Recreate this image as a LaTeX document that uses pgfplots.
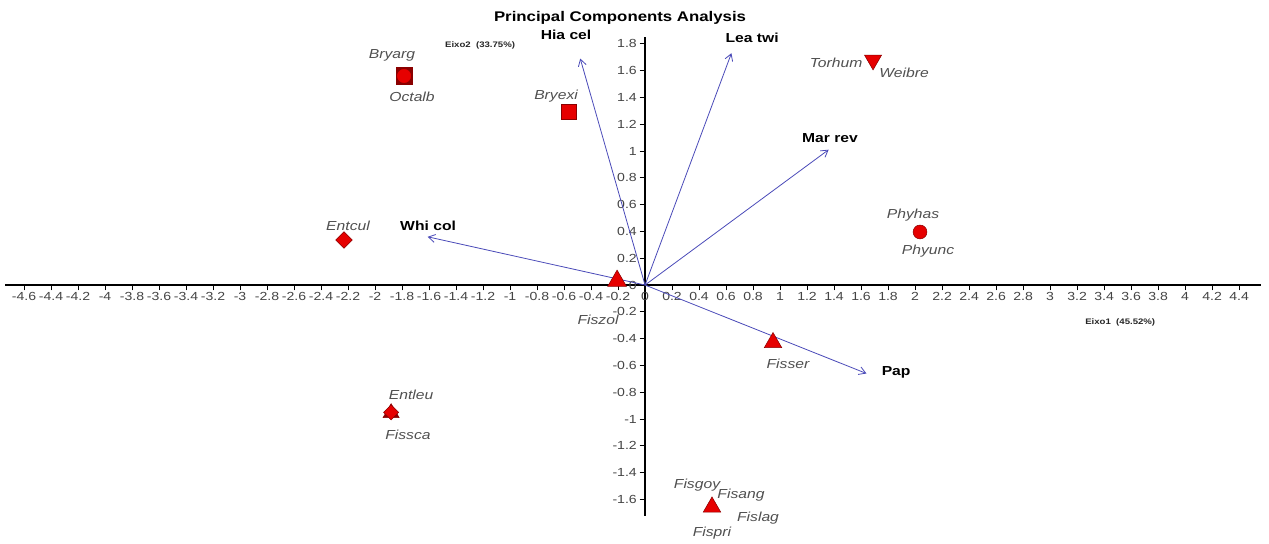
\documentclass[border=0pt]{standalone}
\usepackage{fontspec}
\setmainfont{Liberation Sans}[FakeStretch=1.2]
\usepackage{pgfplots}
\pgfplotsset{compat=1.18}
\usetikzlibrary{arrows.meta}

\definecolor{mkred}{HTML}{E60000}
\definecolor{mkedge}{HTML}{8B0000}
\definecolor{mkdark}{HTML}{8A0000}
\definecolor{vecblue}{HTML}{4A4AB8}
\definecolor{spgray}{HTML}{505050}
\definecolor{tickgray}{HTML}{444444}

\begin{document}
\begin{tikzpicture}
\begin{axis}[
  scale only axis,
  width=941.6pt, height=358.8pt,
  xmin=-4.74, xmax=4.56, ymin=-1.72, ymax=1.85,
  axis lines=middle,
  axis line style={black, line width=1.4pt, -},
  clip=false,
  xtick={-4.6,-4.4,-4.2,-4,-3.8,-3.6,-3.4,-3.2,-3,-2.8,-2.6,-2.4,-2.2,-2,-1.8,-1.6,-1.4,-1.2,-1,-0.8,-0.6,-0.4,-0.2,0,0.2,0.4,0.6,0.8,1,1.2,1.4,1.6,1.8,2,2.2,2.4,2.6,2.8,3,3.2,3.4,3.6,3.8,4,4.2,4.4},
  ytick={-1.6,-1.4,-1.2,-1,-0.8,-0.6,-0.4,-0.2,0,0.2,0.4,0.6,0.8,1,1.2,1.4,1.6,1.8},
  hide obscured x ticks=false,
  hide obscured y ticks=false,
  tick align=outside,
  major tick length=4pt,
  tick style={black, line width=0.6pt},
  /pgf/number format/assume math mode=true,
  /pgf/number format/fixed,
  /pgf/number format/precision=1,
  ticklabel style={font=\fontsize{8.8}{9}\selectfont, text=tickgray},
  xticklabel style={inner sep=1.5pt},
  yticklabel style={inner sep=2pt},
]
% variable vectors
\addplot[vecblue, line width=0.6pt, -{Straight Barb[length=5pt,width=6pt]}] coordinates {(0,0) (-0.48,1.69)};
\addplot[vecblue, line width=0.6pt, -{Straight Barb[length=5pt,width=6pt]}] coordinates {(0,0) (0.64,1.73)};
\addplot[vecblue, line width=0.6pt, -{Straight Barb[length=5pt,width=6pt]}] coordinates {(0,0) (1.36,1.01)};
\addplot[vecblue, line width=0.6pt, -{Straight Barb[length=5pt,width=6pt]}] coordinates {(0,0) (-1.61,0.36)};
\addplot[vecblue, line width=0.6pt, -{Straight Barb[length=5pt,width=6pt]}] coordinates {(0,0) (1.64,-0.66)};

% species scores
\addplot[only marks, mark=square*, mark size=6.2pt, mark options={fill=mkdark, draw=mkdark}] coordinates {(-1.785,1.56)};
\addplot[only marks, mark=*, mark size=5pt, mark options={fill=mkred, draw=mkred}] coordinates {(-1.785,1.56)};
\addplot[only marks, mark=square*, mark size=5.6pt, mark options={fill=mkred, draw=mkedge}] coordinates {(-0.563,1.29)};
\addplot[only marks, mark=triangle*, mark size=7.4pt, mark options={fill=mkred, draw=mkedge, rotate=180}] coordinates {(1.689,1.679)};
\addplot[only marks, mark=*, mark size=5.2pt, mark options={fill=mkred, draw=mkedge}] coordinates {(2.037,0.396)};
\addplot[only marks, mark=square*, mark size=4.4pt, mark options={fill=mkred, draw=mkedge, rotate=45}] coordinates {(-2.23,0.336)};
\addplot[only marks, mark=triangle*, mark size=8.2pt, mark options={fill=mkred, draw=mkedge}] coordinates {(-0.207,0.03)};
\addplot[only marks, mark=triangle*, mark size=7.6pt, mark options={fill=mkred, draw=mkedge}] coordinates {(0.948,-0.43) (0.496,-1.657)};
\addplot[only marks, mark=triangle*, mark size=7pt, mark options={fill=mkdark, draw=mkedge}] coordinates {(-1.881,-0.955)};
\addplot[only marks, mark=square*, mark size=4pt, mark options={fill=mkred, draw=mkedge, rotate=45}] coordinates {(-1.881,-0.95)};

% vector names
\begin{scope}[every node/.style={font=\fontsize{9.8}{10}\selectfont\bfseries, text=black, inner sep=0pt}]
\node at (axis cs:-0.585,1.866) {Hia cel};
\node at (axis cs:0.793,1.843) {Lea twi};
\node at (axis cs:1.37,1.10) {Mar rev};
\node at (axis cs:-1.607,0.44) {Whi col};
\node at (axis cs:1.86,-0.65) {Pap};
\end{scope}

% species names
\begin{scope}[every node/.style={font=\fontsize{9.8}{10}\selectfont\itshape, text=spgray, inner sep=0pt}]
\node at (axis cs:-1.874,1.716) {Bryarg};
\node at (axis cs:-1.726,1.403) {Octalb};
\node at (axis cs:-0.659,1.41) {Bryexi};
\node at (axis cs:1.415,1.657) {Torhum};
\node at (axis cs:1.919,1.582) {Weibre};
\node at (axis cs:1.985,0.522) {Phyhas};
\node at (axis cs:2.096,0.254) {Phyunc};
\node at (axis cs:-2.2,0.44) {Entcul};
\node at (axis cs:-0.348,-0.26) {Fiszol};
\node at (axis cs:1.059,-0.59) {Fisser};
\node at (axis cs:-1.733,-0.82) {Entleu};
\node at (axis cs:-1.756,-1.12) {Fissca};
\node at (axis cs:0.385,-1.493) {Fisgoy};
\node at (axis cs:0.711,-1.567) {Fisang};
\node at (axis cs:0.837,-1.739) {Fislag};
\node at (axis cs:0.496,-1.851) {Fispri};
\end{scope}

% title and axis names
\node[font=\fontsize{10.5}{11}\selectfont\bfseries, inner sep=0pt] at (axis cs:-0.185,1.99) {Principal Components Analysis};
\node[font=\fontsize{6}{7}\selectfont\bfseries, text=black!85, inner sep=0pt] at (axis cs:-1.222,1.79) {Eixo2\ \ (33.75\%)};
\node[font=\fontsize{6}{7}\selectfont\bfseries, text=black!85, inner sep=0pt] at (axis cs:3.52,-0.276) {Eixo1\ \ (45.52\%)};

\coordinate (bl) at (axis cs:-4.778,-1.925);
\coordinate (tr) at (axis cs:4.622,2.127);
\end{axis}
\pgfresetboundingbox
\path (bl) rectangle (tr);
\end{tikzpicture}
\end{document}
